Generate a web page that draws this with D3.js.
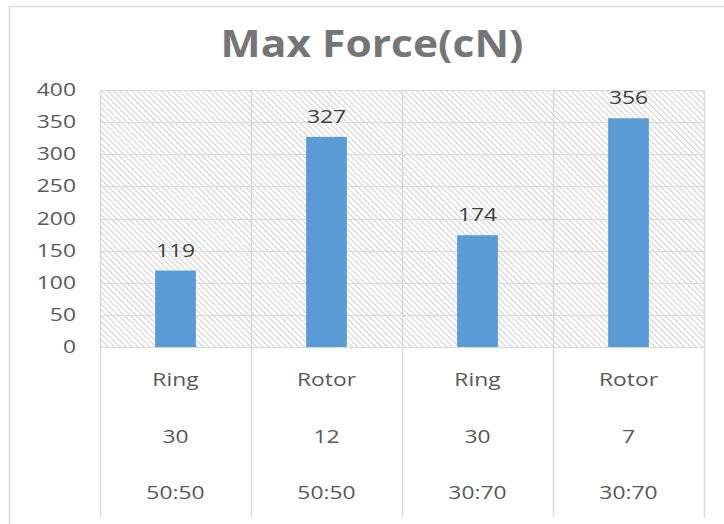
<!DOCTYPE html>
<html>
<head>
<meta charset="utf-8">
<script src="https://cdn.jsdelivr.net/npm/d3@7"></script>
<style>
  html, body { margin: 0; padding: 0; background: #fff; }
  svg { display: block; }
  text { font-family: "Open Sans", "Noto Sans", sans-serif; }
</style>
</head>
<body>
<svg id="chart" width="724" height="524"></svg>
<script>
// ---- data ----
const title = "Max Force(cN)";
const spinType = ["Ring", "Rotor", "Ring", "Rotor"];
const speedLevel = ["30", "12", "30", "7"];
const blendRatio = ["50:50", "50:50", "30:70", "30:70"];
const maxForce = [119, 327, 174, 356];
const yTicks = [0, 50, 100, 150, 200, 250, 300, 350, 400];

// ---- layout ----
const plot = { left: 100, right: 704, top: 90, bottom: 347 };
const labelBottom = 517;
const SX = 1.27;   // horizontal stretch of small text
const FS = 18;

const svg = d3.select("#chart");

// outer chart border
svg.append("rect")
  .attr("x", 9.5).attr("y", 6.5)
  .attr("width", 730).attr("height", 530)
  .attr("fill", "#fff").attr("stroke", "#d9d9d9").attr("stroke-width", 1.5);

// hatch pattern ("\" direction)
const defs = svg.append("defs");
const pat = defs.append("pattern")
  .attr("id", "hatch").attr("patternUnits", "userSpaceOnUse")
  .attr("width", 4.2).attr("height", 4.2)
  .attr("patternTransform", "rotate(45)");
pat.append("rect").attr("width", 4.2).attr("height", 4.2).attr("fill", "#fff");
pat.append("line").attr("x1", 0).attr("y1", 0.7).attr("x2", 4.2).attr("y2", 0.7)
  .attr("stroke", "#d6d6d6").attr("stroke-width", 1.25);

const idx = d3.range(maxForce.length);
const x = d3.scaleBand().domain(idx).range([plot.left, plot.right]).paddingInner(0).paddingOuter(0);
const y = d3.scaleLinear().domain([0, 400]).range([plot.bottom, plot.top]);

// plot area background
svg.append("rect")
  .attr("x", plot.left).attr("y", plot.top)
  .attr("width", plot.right - plot.left).attr("height", plot.bottom - plot.top)
  .attr("fill", "url(#hatch)");

// horizontal gridlines
svg.append("g").selectAll("line").data(yTicks).join("line")
  .attr("x1", plot.left).attr("x2", plot.right)
  .attr("y1", d => Math.round(y(d)) + 0.5).attr("y2", d => Math.round(y(d)) + 0.5)
  .attr("stroke", "#d9d9d9").attr("stroke-width", 1.2);

// vertical category lines (extend through label area)
const bounds = idx.map(i => x(i)).concat([x(idx.length - 1) + x.bandwidth()]);
svg.append("g").selectAll("line").data(bounds).join("line")
  .attr("x1", d => Math.round(d) + 0.5).attr("x2", d => Math.round(d) + 0.5)
  .attr("y1", plot.top).attr("y2", labelBottom)
  .attr("stroke", "#d9d9d9").attr("stroke-width", 1.5);

// bars
const barW = x.bandwidth() * 0.27;
svg.append("g").selectAll("rect").data(idx).join("rect")
  .attr("x", i => x(i) + (x.bandwidth() - barW) / 2)
  .attr("width", barW)
  .attr("y", i => y(maxForce[i]))
  .attr("height", i => y(0) - y(maxForce[i]))
  .attr("fill", "#5b9bd5");

// helper for stretched text
function stretched(sel, sx) {
  return sel.attr("transform", d => `translate(${d.tx},${d.ty}) scale(${sx},1)`);
}

// data labels
stretched(svg.append("g").selectAll("text")
  .data(idx.map(i => ({ tx: x(i) + x.bandwidth() / 2, ty: y(maxForce[i]) - 14, t: maxForce[i] })))
  .join("text"), SX)
  .attr("text-anchor", "middle")
  .attr("font-size", FS)
  .attr("fill", "#404040")
  .text(d => d.t);

// y axis labels (positions from scale)
stretched(svg.append("g").selectAll("text")
  .data(yTicks.map(v => ({ tx: plot.left - 24, ty: y(v) + 6, t: v })))
  .join("text"), SX)
  .attr("text-anchor", "end")
  .attr("font-size", FS)
  .attr("fill", "#595959")
  .text(d => d.t);

// multi-level category labels
const rows = [spinType, speedLevel, blendRatio];
const rowY = [386, 443, 499];
rows.forEach((arr, r) => {
  stretched(svg.append("g").selectAll("text")
    .data(idx.map(i => ({ tx: x(i) + x.bandwidth() / 2, ty: rowY[r], t: arr[i] })))
    .join("text"), SX)
    .attr("text-anchor", "middle")
    .attr("font-size", FS)
    .attr("fill", "#595959")
    .text(d => d.t);
});

// title
svg.append("text")
  .attr("transform", "translate(372,57) scale(1.12,1)")
  .attr("text-anchor", "middle")
  .attr("font-size", 38).attr("font-weight", "bold")
  .attr("fill", "#757575")
  .text(title);
</script>
</body>
</html>
